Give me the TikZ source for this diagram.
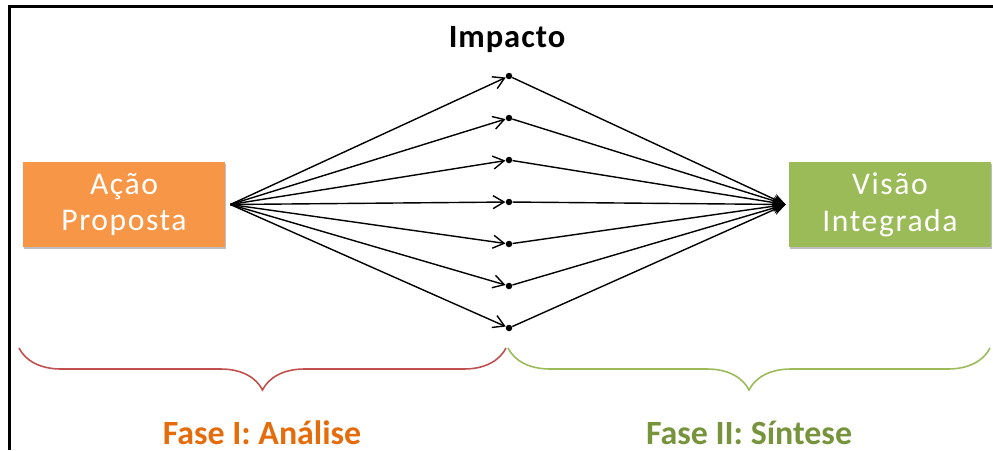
\documentclass[tikz,border=0pt]{standalone}
\usepackage{fontspec}
\setmainfont{Carlito}
\newfontfamily\boxfont{Carlito}[LetterSpace=5]
\newfontfamily\headfont{Carlito}[LetterSpace=3]
\usetikzlibrary{arrows.meta, positioning, shadows, decorations.pathreplacing}
\definecolor{boxorange}{HTML}{F79646}
\definecolor{boxgreen}{HTML}{9BBB59}
\definecolor{bracered}{HTML}{C0504D}
\definecolor{bracegreen}{HTML}{9BBB59}
\definecolor{textorange}{HTML}{E46C0A}
\definecolor{textgreen}{HTML}{77933C}
\tikzset{
  phasebox/.style={text=white, align=center,
    minimum width=4.04cm, minimum height=1.7cm, inner sep=0pt,
    font=\boxfont\fontsize{18pt}{21pt}\selectfont,
    drop shadow={shadow xshift=0.3pt, shadow yshift=-1.3pt, opacity=0.25, fill=black}},
  impdot/.style={circle, fill=black, inner sep=0pt, minimum size=0.13cm},
  outarrow/.style={-{Straight Barb[length=2.2mm, width=2.6mm]}, line width=0.8pt},
  inarrow/.style={-{Stealth[length=2.6mm, width=2.2mm]}, line width=0.8pt},
  phasebrace/.style={decorate, decoration={brace, mirror, amplitude=0.84cm}, line width=0.9pt},
  phaselabel/.style={anchor=base, font=\bfseries\fontsize{19.3pt}{23pt}\selectfont}
}
\begin{document}
\begin{tikzpicture}[x=0.02cm, y=-0.02cm]
    \useasboundingbox (0,0) rectangle (993,450);
    % frame
    \draw[line width=1.7pt] (9.5,450) -- (9.5,6.5) -- (993,6.5);

    \node (act) [phasebox, fill=boxorange] at (124,204.5) {Ação\\Proposta};
    \node (vis) [phasebox, fill=boxgreen] at (890,204.5) {Visão\\Integrada};
    \coordinate (src) at ([xshift=0.1cm]act.east);
    \coordinate (tgt) at ([xshift=-0.06cm]vis.west);

    \node (imp) [anchor=base, font=\headfont\bfseries\fontsize{18.5pt}{20pt}\selectfont] at (507,47) {Impacto};

    % impact points between the two boxes
    \foreach \i in {1,...,7} {
        \node (imp\i) [impdot] at (509, 76+42*\i-42) {};
        \draw[outarrow] (src) -- (imp\i);
        \draw[inarrow] (imp\i) -- (tgt);
    }

    % phases
    \draw[phasebrace, bracered] (19,348) -- (506,348);
    \draw[phasebrace, bracegreen] (508,348) -- (990,348);
    \node (fase1) [phaselabel, text=textorange] at (262,444) {Fase I: Análise};
    \node (fase2) [phaselabel, text=textgreen] at (749,444) {Fase II: Síntese};
\end{tikzpicture}
\end{document}
